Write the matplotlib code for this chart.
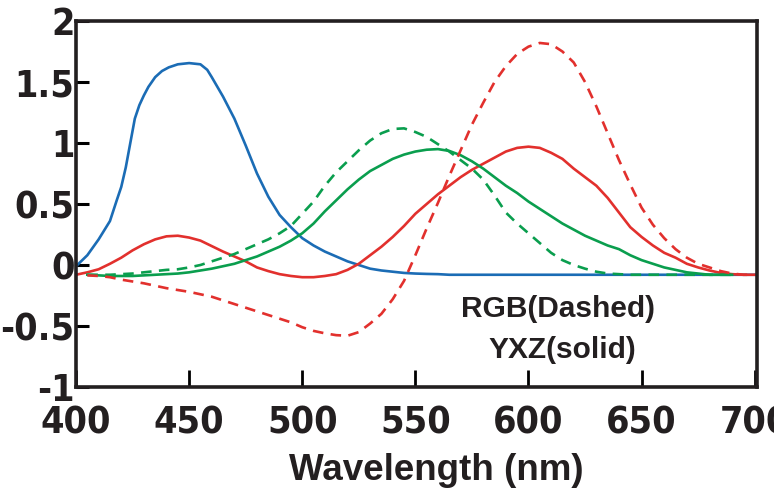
import numpy as np
import matplotlib
matplotlib.use("Agg")
import matplotlib.pyplot as plt

# longitudes de onda (nm), paso de 5 nm
wl_full = list(range(400, 705, 5))      # 400..700
wl_g = list(range(405, 695, 5))         # 405..690
wl_rd = list(range(405, 705, 5))        # 405..700
# azul: mas puntos en la subida
wl_b = [400, 405, 410, 415, 418, 420, 422, 424, 426, 428, 430, 432, 435, 438, 441,
        445, 450, 455, 458] + list(range(460, 705, 5))

# XYZ (solid)
blue_solid = [-0.01, 0.08, 0.21, 0.36, 0.53, 0.64, 0.80, 1.00, 1.20, 1.31,
              1.39, 1.46, 1.54, 1.59, 1.62, 1.645, 1.655, 1.645, 1.60,
              1.54, 1.38, 1.20, 0.98, 0.75, 0.56, 0.41, 0.31,
              0.22, 0.16, 0.11, 0.07, 0.03, 0.00, -0.03, -0.045, -0.055, -0.065,
              -0.07, -0.073, -0.075] + [-0.08] * 28
red_solid = [-0.08, -0.06, -0.035, 0.01, 0.06, 0.12, 0.17, 0.21, 0.235, 0.24,
             0.225, 0.20, 0.155, 0.11, 0.07, 0.03, -0.02, -0.05, -0.075, -0.09,
             -0.10, -0.10, -0.09, -0.075, -0.04, 0.01, 0.08, 0.15, 0.23, 0.32,
             0.42, 0.50, 0.58, 0.65, 0.72, 0.78, 0.83, 0.88, 0.93, 0.96,
             0.97, 0.96, 0.92, 0.87, 0.79, 0.72, 0.65, 0.55, 0.43, 0.31,
             0.23, 0.16, 0.10, 0.06, 0.01, -0.02, -0.045, -0.065, -0.075, -0.08,
             -0.08]
green_solid = [-0.08, -0.085, -0.09, -0.09, -0.09, -0.085, -0.08, -0.075, -0.07, -0.06,
               -0.045, -0.03, -0.01, 0.01, 0.04, 0.07, 0.11, 0.15, 0.20, 0.26,
               0.34, 0.44, 0.53, 0.62, 0.70, 0.77, 0.82, 0.87, 0.905, 0.93,
               0.945, 0.95, 0.935, 0.90, 0.85, 0.79, 0.72, 0.65, 0.59, 0.52,
               0.46, 0.40, 0.34, 0.29, 0.24, 0.20, 0.16, 0.13, 0.08, 0.04,
               0.01, -0.02, -0.04, -0.06, -0.07, -0.08, -0.08, -0.08]

# RGB (dashed)
green_dashed = [-0.08, -0.08, -0.08, -0.075, -0.07, -0.06, -0.05, -0.04, -0.035, -0.02,
                0.0, 0.03, 0.06, 0.09, 0.13, 0.17, 0.21, 0.26, 0.32, 0.42,
                0.52, 0.65, 0.76, 0.85, 0.94, 1.02, 1.08, 1.115, 1.12, 1.09,
                1.05, 0.99, 0.93, 0.86, 0.79, 0.70, 0.57, 0.43, 0.34, 0.26,
                0.18, 0.10, 0.04, 0.0, -0.03, -0.055, -0.07, -0.075] + [-0.08] * 10
red_dashed = [-0.085, -0.09, -0.10, -0.12, -0.135, -0.15, -0.17, -0.19, -0.205, -0.22,
              -0.24, -0.26, -0.29, -0.32, -0.35, -0.38, -0.41, -0.44, -0.47, -0.51,
              -0.54, -0.56, -0.575, -0.58, -0.55, -0.48, -0.40, -0.28, -0.13, 0.08,
              0.30, 0.51, 0.73, 0.94, 1.15, 1.33, 1.50, 1.63, 1.73, 1.79,
              1.82, 1.81, 1.75, 1.66, 1.50, 1.30, 1.08, 0.86, 0.66, 0.47,
              0.33, 0.22, 0.13, 0.06, 0.01, -0.02, -0.05, -0.07, -0.08, -0.08]

x_ticks = [400, 450, 500, 550, 600, 650, 700]
y_ticks = [-1, -0.5, 0, 0.5, 1, 1.5, 2]
y_labels = ['-1', '-0.5', '0', '0.5', '1', '1.5', '2']

RED = '#e2302d'
GREEN = '#0a9e4e'
BLUE = '#1b6cb5'
TXT = '#231f20'
LW = 1.9
DASH = (4, 2.8)

fig = plt.figure(figsize=(7.74, 4.93), dpi=100)
ax = fig.add_axes([0.0982, 0.215, 0.8798, 0.7424])

ax.plot(wl_b, blue_solid, color=BLUE, lw=LW)
ax.plot(wl_full, red_solid, color=RED, lw=LW)
ax.plot(wl_g, green_solid, color=GREEN, lw=LW)
ax.plot(wl_g, green_dashed, color=GREEN, lw=LW, linestyle=(0, DASH))
ax.plot(wl_rd, red_dashed, color=RED, lw=LW, linestyle=(0, DASH))

ax.set_xlim(400, 701)
ax.set_ylim(-1, 2)
ax.set_xticks(x_ticks)
ax.set_yticks(y_ticks)
ax.set_yticklabels(y_labels)

# etiquetas de los ejes en negrita condensada
for lab in ax.get_xticklabels() + ax.get_yticklabels():
    lab.set_fontfamily('DejaVu Sans')
    lab.set_fontstretch('condensed')
    lab.set_fontweight('bold')
    lab.set_fontsize(27)
    lab.set_color(TXT)

ax.tick_params(axis='x', direction='in', length=12, width=2, pad=13)
ax.tick_params(axis='y', direction='in', length=9, width=2.2, pad=1)
for sp in ax.spines.values():
    sp.set_linewidth(2.6)
    sp.set_color(TXT)

ax.text(613, -0.43, 'RGB(Dashed)', ha='center', va='baseline',
        fontsize=21.5, fontweight='bold', family='Liberation Sans', color=TXT)
ax.text(615, -0.76, 'YXZ(solid)', ha='center', va='baseline',
        fontsize=21.5, fontweight='bold', family='Liberation Sans', color=TXT)

fig.text(436 / 774, 13 / 493, 'Wavelength (nm)', ha='center', va='baseline',
         fontsize=26.5, fontweight='bold', family='Liberation Sans', color=TXT)

fig.savefig('out.png', dpi=100)
